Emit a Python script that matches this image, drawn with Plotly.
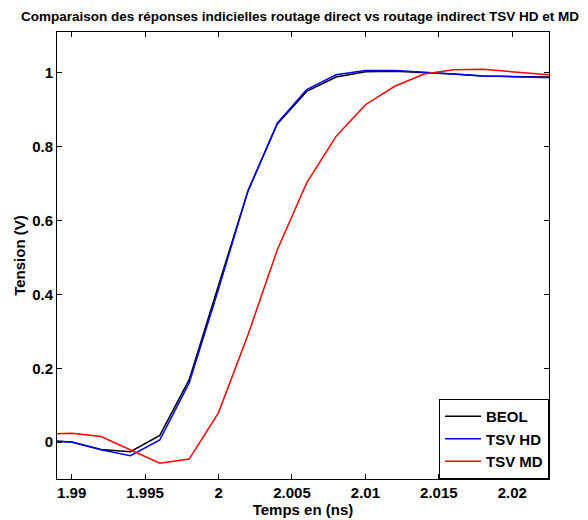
import plotly.graph_objects as go

# Time (ns)
t = [1.988, 1.990, 1.992, 1.994, 1.996, 1.998, 2.000, 2.002, 2.004, 2.006,
     2.008, 2.010, 2.012, 2.014, 2.016, 2.018, 2.020, 2.022, 2.024]

beol = [0.005, 0.000, -0.020, -0.026, 0.018, 0.169, 0.425, 0.680, 0.862, 0.950,
        0.989, 1.003, 1.005, 1.002, 0.997, 0.992, 0.990, 0.989, 0.989]
tsv_hd = [0.005, 0.000, -0.021, -0.037, 0.006, 0.160, 0.415, 0.680, 0.864, 0.955,
          0.995, 1.007, 1.007, 1.001, 0.997, 0.992, 0.989, 0.988, 0.988]
tsv_md = [0.021, 0.024, 0.015, -0.020, -0.057, -0.046, 0.080, 0.290, 0.521, 0.702,
          0.828, 0.914, 0.964, 0.997, 1.009, 1.010, 1.004, 0.998, 0.990]

x_tickvals = [1.99, 1.995, 2.0, 2.005, 2.01, 2.015, 2.02]
x_ticktext = ["1.99", "1.995", "2", "2.005", "2.01", "2.015", "2.02"]
y_tickvals = [0, 0.2, 0.4, 0.6, 0.8, 1.0]
y_ticktext = ["0", "0.2", "0.4", "0.6", "0.8", "1"]

FONT = "Liberation Sans, Arial, sans-serif"

fig = go.Figure()
fig.add_trace(go.Scatter(x=t, y=beol, mode="lines", name="BEOL",
                         line=dict(color="black", width=1.5)))
fig.add_trace(go.Scatter(x=t, y=tsv_hd, mode="lines", name="TSV HD",
                         line=dict(color="#0000ff", width=1.5)))
fig.add_trace(go.Scatter(x=t, y=tsv_md, mode="lines", name="TSV MD",
                         line=dict(color="#ff0000", width=1.5)))

axis_common = dict(showline=True, linecolor="black", linewidth=1, mirror="ticks",
                   ticks="inside", ticklen=5, tickcolor="black", showgrid=False,
                   zeroline=False, automargin=False,
                   tickfont=dict(family=FONT, size=15, color="black", weight="bold"))

# page body has an 8px margin: figure is 580x512 drawn at (8, 8)
fig.update_layout(
    width=580, height=512,
    margin=dict(l=49, r=39, t=24, b=41),
    paper_bgcolor="white", plot_bgcolor="white",
    title=dict(text="Comparaison des réponses indicielles routage direct vs routage indirect TSV HD et MD",
               x=292 / 580, xref="container", xanchor="center", y=1 - 8 / 512, yanchor="middle",
               font=dict(family=FONT, size=13.5, color="black", weight="bold")),
    xaxis=dict(range=[1.989, 2.0225], tickvals=x_tickvals, ticktext=x_ticktext,
               title=dict(text="Temps en (ns)",
                          font=dict(family=FONT, size=15, color="black", weight="bold"),
                          standoff=4),
               **axis_common),
    yaxis=dict(range=[-0.1, 1.111], tickvals=y_tickvals, ticktext=y_ticktext,
               title=dict(text="Tension (V)",
                          font=dict(family=FONT, size=15, color="black", weight="bold"),
                          standoff=2),
               **axis_common),
    legend=dict(x=1, y=0, xanchor="right", yanchor="bottom", bgcolor="white",
                bordercolor="black", borderwidth=1, itemwidth=36,
                font=dict(family=FONT, size=15, color="black", weight="bold"),
                tracegroupgap=0),
    showlegend=True,
)

fig.write_html("out.html")
